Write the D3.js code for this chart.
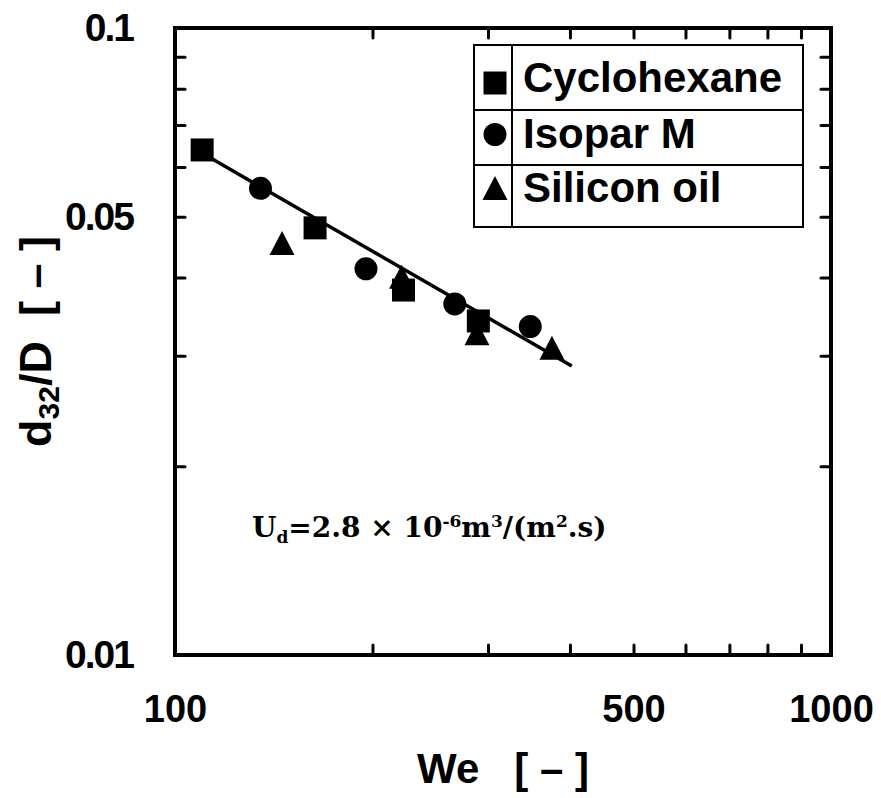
<!DOCTYPE html>
<html>
<head>
<meta charset="utf-8">
<script src="https://cdn.jsdelivr.net/npm/d3@7"></script>
<style>
  body { margin: 0; background: #fff; }
  text { font-family: "Liberation Sans", Arial, sans-serif; font-weight: bold; fill: #000; }
</style>
</head>
<body>
<script>
// data
var seriesNames = ["Cyclohexane", "Isopar M", "Silicon oil"];
var cycloWe = [110, 163.5, 223, 290];
var cycloD  = [0.0639, 0.048, 0.0382, 0.0341];
var isoparWe = [135, 195.5, 267, 348];
var isoparD  = [0.0555, 0.0413, 0.0363, 0.0334];
var siliconWe = [145.6, 221.5, 288.6, 375.5];
var siliconD  = [0.0454, 0.0401, 0.0326, 0.0309];
var fitWe = [106.5, 402.6];
var fitD  = [0.0644, 0.0289];
var xLabelTicks = [100, 500, 1000];
var yLabelTicks = [0.01, 0.05, 0.1];
var xMinorTicks = [200, 300, 400, 500, 600, 700, 800, 900];
var yMinorTicks = [0.02, 0.03, 0.04, 0.05, 0.06, 0.07, 0.08, 0.09];

var W = 881, H = 798;
var margin = {top: 28, right: 50, bottom: 143, left: 175};
var pw = W - margin.left - margin.right,
    ph = H - margin.top - margin.bottom;

var svg = d3.select("body").append("svg")
    .attr("width", W)
    .attr("height", H);

var x = d3.scaleLog().domain([100, 1000]).range([margin.left, margin.left + pw]);
var y = d3.scaleLog().domain([0.01, 0.1]).range([margin.top + ph, margin.top]);

// inward minor ticks on all four sides
function tickStyle(g) {
  g.select(".domain").remove();
  g.selectAll("line").attr("stroke", "#000").attr("stroke-width", 3).attr("stroke-linecap", "round");
  g.selectAll("text").remove();
}
svg.append("g").attr("transform", "translate(0," + (margin.top + ph) + ")")
  .call(d3.axisBottom(x).tickValues(xMinorTicks).tickSize(-10)).call(tickStyle);
svg.append("g").attr("transform", "translate(0," + margin.top + ")")
  .call(d3.axisTop(x).tickValues(xMinorTicks).tickSize(-10)).call(tickStyle);
svg.append("g").attr("transform", "translate(" + margin.left + ",0)")
  .call(d3.axisLeft(y).tickValues(yMinorTicks).tickSize(-10)).call(tickStyle);
svg.append("g").attr("transform", "translate(" + (margin.left + pw) + ",0)")
  .call(d3.axisRight(y).tickValues(yMinorTicks).tickSize(-10)).call(tickStyle);

// tick labels
var xl = svg.append("g").attr("transform", "translate(0," + (margin.top + ph) + ")")
  .call(d3.axisBottom(x).tickValues(xLabelTicks).tickSize(0).tickPadding(40).tickFormat(d3.format("d")));
xl.select(".domain").remove();
xl.selectAll("text").style("font-size", "38px").attr("font-family", null);

var yl = svg.append("g").attr("transform", "translate(" + margin.left + ",0)")
  .call(d3.axisLeft(y).tickValues(yLabelTicks).tickSize(0).tickPadding(42).tickFormat(function(d) { return String(d); }));
yl.select(".domain").remove();
yl.selectAll("text").style("font-size", "39px").attr("font-family", null).attr("letter-spacing", "-2px");

// frame
svg.append("rect")
  .attr("x", margin.left).attr("y", margin.top)
  .attr("width", pw).attr("height", ph)
  .attr("fill", "none").attr("stroke", "#000").attr("stroke-width", 4);

// axis titles
svg.append("text")
  .attr("x", x(Math.sqrt(100 * 1000))).attr("y", 783)
  .attr("text-anchor", "middle")
  .style("font-size", "42px")
  .style("white-space", "pre")
  .text("We   [ – ]");

var yt = svg.append("text")
  .attr("transform", "translate(51," + y(Math.sqrt(0.01 * 0.1)) + ") rotate(-90)")
  .attr("text-anchor", "middle")
  .style("font-size", "45px")
  .style("white-space", "pre");
yt.append("tspan").text("d");
yt.append("tspan").attr("dy", 8).style("font-size", "30px").text("32");
yt.append("tspan").attr("dy", -8).text("/D  [ – ]");

// fitted line
var line = d3.line().x(function(d) { return x(d[0]); }).y(function(d) { return y(d[1]); });
svg.append("path")
  .datum(d3.zip(fitWe, fitD))
  .attr("d", line)
  .attr("fill", "none").attr("stroke", "#000").attr("stroke-width", 3.5);

// markers
var triangle = {
  draw: function(ctx, size) {
    var w = 25, h = 24;
    ctx.moveTo(0, -h / 2);
    ctx.lineTo(w / 2, h / 2);
    ctx.lineTo(-w / 2, h / 2);
    ctx.closePath();
  }
};
var symbols = [d3.symbol(d3.symbolSquare, 23 * 23), d3.symbol(d3.symbolCircle, Math.PI * 11.5 * 11.5), d3.symbol(triangle, 1)];
var series = [d3.zip(cycloWe, cycloD), d3.zip(isoparWe, isoparD), d3.zip(siliconWe, siliconD)];

series.forEach(function(pts, i) {
  svg.append("g").selectAll("path")
    .data(pts)
  .enter().append("path")
    .attr("transform", function(d) { return "translate(" + x(d[0]) + "," + y(d[1]) + ")"; })
    .attr("d", symbols[i]())
    .attr("fill", "#000");
});

// legend
var lg = svg.append("g");
var lgRows = [45, 110, 165, 227];
lg.append("rect").attr("x", 474).attr("y", lgRows[0]).attr("width", 329).attr("height", lgRows[3] - lgRows[0])
  .attr("fill", "#fff").attr("stroke", "#000").attr("stroke-width", 2);
lg.append("line").attr("x1", 512).attr("x2", 512).attr("y1", lgRows[0]).attr("y2", lgRows[3])
  .attr("stroke", "#000").attr("stroke-width", 2);
[lgRows[1], lgRows[2]].forEach(function(yy) {
  lg.append("line").attr("x1", 474).attr("x2", 803).attr("y1", yy).attr("y2", yy)
    .attr("stroke", "#000").attr("stroke-width", 2);
});
var lgMarkY = [83, 134.5, 188], lgTextY = [92, 148, 202];
seriesNames.forEach(function(name, i) {
  lg.append("path").attr("transform", "translate(495," + lgMarkY[i] + ")")
    .attr("d", symbols[i]()).attr("fill", "#000");
  lg.append("text").attr("x", 523).attr("y", lgTextY[i])
    .style("font-size", "42px").text(name);
});

// annotation
var ann = svg.append("text")
  .attr("x", 252).attr("y", 537)
  .style("font-family", "'DejaVu Serif', 'Liberation Serif', serif")
  .style("font-weight", "bold")
  .style("font-size", "28px")
  .style("white-space", "pre");
ann.append("tspan").text("U");
ann.append("tspan").attr("dy", 6).style("font-size", "17px").text("d");
ann.append("tspan").attr("dy", -6).text("=2.8 × 10");
ann.append("tspan").attr("dy", -10).style("font-size", "17px").text("-6");
ann.append("tspan").attr("dy", 10).text("m");
ann.append("tspan").attr("dy", -10).style("font-size", "17px").text("3");
ann.append("tspan").attr("dy", 10).text("/(m");
ann.append("tspan").attr("dy", -10).style("font-size", "17px").text("2");
ann.append("tspan").attr("dy", 10).text(".s)");
</script>
</body>
</html>
